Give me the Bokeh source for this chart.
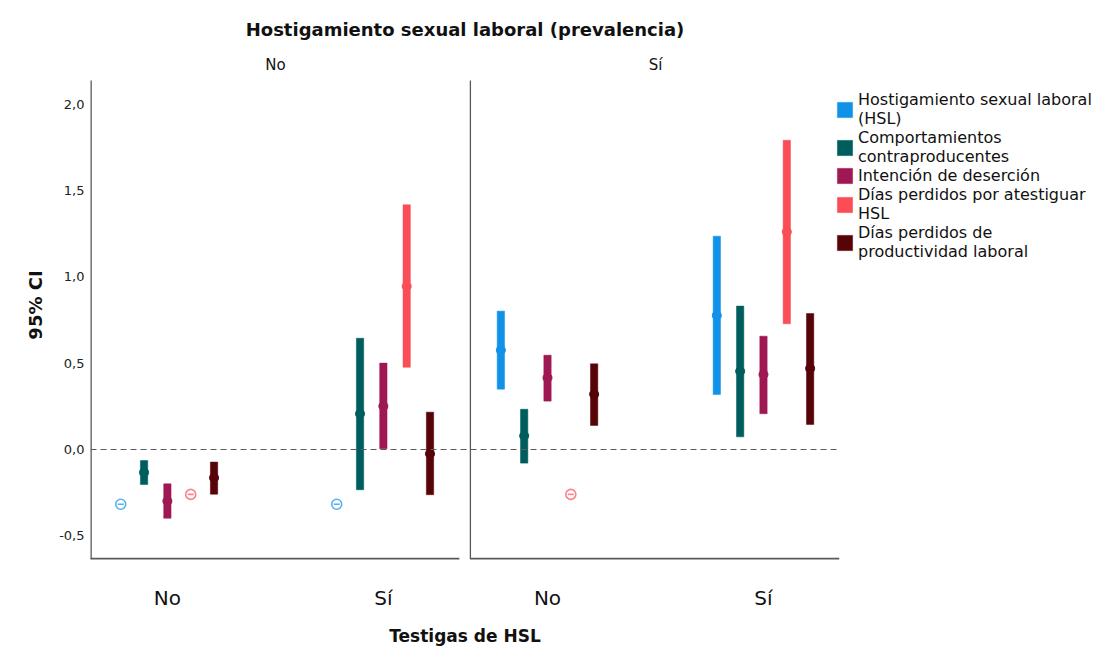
import math
from bokeh.plotting import figure
from bokeh.models import Span, Legend, LegendItem, FixedTicker, ColumnDataSource, Range1d
from bokeh.core.properties import value
from bokeh.embed import file_html
from bokeh.resources import INLINE

nan = float("nan")

# ---------------- data ----------------
panels = ["No", "Sí"]            # Hostigamiento sexual laboral (prevalencia)
testigas = ["No", "Sí"]          # Testigas de HSL
series = [
    "Hostigamiento sexual laboral\n(HSL)",
    "Comportamientos\ncontraproducentes",
    "Intención de deserción",
    "Días perdidos por atestiguar\nHSL",
    "Días perdidos de\nproductividad laboral",
]
colors = ["#1192e8", "#005d5d", "#9f1853", "#fa4d56", "#570408"]

# value order: (panel No, testigas No), (panel No, testigas Sí), (panel Sí, testigas No), (panel Sí, testigas Sí)
hsl_mean = [-0.317, -0.317, 0.575, 0.776]
hsl_lo = [nan, nan, 0.349, 0.318]
hsl_hi = [nan, nan, 0.801, 1.235]

comp_mean = [-0.133, 0.207, 0.079, 0.453]
comp_lo = [-0.203, -0.233, -0.079, 0.073]
comp_hi = [-0.064, 0.644, 0.233, 0.830]

int_mean = [-0.299, 0.251, 0.415, 0.434]
int_lo = [-0.398, 0.004, 0.280, 0.207]
int_hi = [-0.199, 0.500, 0.546, 0.656]

dias_mean = [-0.260, 0.945, -0.260, 1.260]
dias_lo = [nan, 0.476, nan, 0.728]
dias_hi = [nan, 1.417, nan, 1.790]

prod_mean = [-0.164, -0.025, 0.320, 0.469]
prod_lo = [-0.259, -0.262, 0.139, 0.145]
prod_hi = [-0.073, 0.216, 0.496, 0.787]

y_ticks = [-0.5, 0.0, 0.5, 1.0, 1.5, 2.0]
y_tick_labels = ["-0,5", "0,0", "0,5", "1,0", "1,5", "2,0"]

means = [hsl_mean, comp_mean, int_mean, dias_mean, prod_mean]
lows = [hsl_lo, comp_lo, int_lo, dias_lo, prod_lo]
highs = [hsl_hi, comp_hi, int_hi, dias_hi, prod_hi]

# ---------------- layout constants ----------------
PANEL_OFFSET = 1.76
DODGE = 0.108
BAR_W = 0.034
X_START, X_END = -0.356, 3.112
LEFT_PANEL_END, RIGHT_PANEL_START = 1.352, 1.403
Y_START, Y_AXIS_TOP, Y_FRAME_TOP = -0.637, 2.136, 2.310
PANEL_TITLE_Y = 2.225
FONT = "DejaVu Sans"
AXIS_GREY = "#5a5a5a"

p = figure(
    frame_width=749, frame_height=509,
    x_range=Range1d(X_START, X_END), y_range=Range1d(Y_START, Y_FRAME_TOP),
    output_backend="svg", toolbar_location=None,
    min_border_left=90, min_border_top=50, min_border_bottom=0, min_border_right=0,
    title="Hostigamiento sexual laboral (prevalencia)",
)
p.title.align = "center"
p.title.text_font = FONT
p.title.text_font_size = "18px"
p.title.text_font_style = "bold"
p.title.text_color = "#111111"
p.title.standoff = 22
p.outline_line_color = None
p.xgrid.grid_line_color = None
p.ygrid.grid_line_color = None

# axes
p.yaxis.ticker = FixedTicker(ticks=y_ticks)
p.yaxis.major_label_overrides = {t: l for t, l in zip(y_ticks, y_tick_labels)}
p.yaxis.major_tick_line_color = None
p.yaxis.major_tick_out = 0
p.yaxis.minor_tick_line_color = None
p.yaxis.major_label_text_font = FONT
p.yaxis.major_label_text_font_size = "13px"
p.yaxis.major_label_text_color = "#222222"
p.yaxis.major_label_standoff = 6
p.yaxis.axis_line_color = None
p.yaxis.axis_label = "95% CI"
p.yaxis.axis_label_text_font = FONT
p.yaxis.axis_label_text_font_size = "18px"
p.yaxis.axis_label_text_font_style = "bold"
p.yaxis.axis_label_text_color = "#111111"
p.yaxis.axis_label_standoff = 10

x_ticks = []
x_labels = {}
for pi in range(len(panels)):
    for ti, t in enumerate(testigas):
        xv = round(pi * PANEL_OFFSET + ti, 4)
        x_ticks.append(xv)
        x_labels[xv] = t
p.xaxis.ticker = FixedTicker(ticks=x_ticks)
p.xaxis.major_label_overrides = x_labels
p.xaxis.major_tick_line_color = None
p.xaxis.major_tick_out = 0
p.xaxis.minor_tick_line_color = None
p.xaxis.axis_line_color = None
p.xaxis.major_label_text_font = FONT
p.xaxis.major_label_text_font_size = "20px"
p.xaxis.major_label_text_color = "#111111"
p.xaxis.major_label_standoff = 26
p.xaxis.axis_label = "Testigas de HSL"
p.xaxis.axis_label_text_font = FONT
p.xaxis.axis_label_text_font_size = "17px"
p.xaxis.axis_label_text_font_style = "bold"
p.xaxis.axis_label_text_color = "#111111"
p.xaxis.axis_label_standoff = 13

# panel frames
p.segment(x0=[X_START, RIGHT_PANEL_START], x1=[LEFT_PANEL_END, X_END],
          y0=[Y_START, Y_START], y1=[Y_START, Y_START],
          line_color=AXIS_GREY, line_width=3.5)
p.segment(x0=[X_START, RIGHT_PANEL_START], x1=[X_START, RIGHT_PANEL_START],
          y0=[Y_START, Y_START], y1=[Y_AXIS_TOP, Y_AXIS_TOP],
          line_color=AXIS_GREY, line_width=[2.6, 1.3])

# zero reference line
p.add_layout(Span(location=0, dimension="width", line_color=AXIS_GREY,
                  line_dash="6 4", line_width=1.2))

# panel titles
p.text(x=[pi * PANEL_OFFSET + 0.5 for pi in range(len(panels))],
       y=[PANEL_TITLE_Y] * len(panels), text=panels,
       text_align="center", text_baseline="middle", text_font=value(FONT),
       text_font_size="15px", text_color="#111111")

items = []
for i, name in enumerate(series):
    xs_ci, lo_ci, hi_ci, m_ci = [], [], [], []
    xs_pt, m_pt = [], []
    for j in range(4):
        pi, ti = divmod(j, 2)
        xv = pi * PANEL_OFFSET + ti + (i - 2) * DODGE
        if math.isnan(lows[i][j]):
            xs_pt.append(xv); m_pt.append(means[i][j])
        else:
            xs_ci.append(xv); lo_ci.append(lows[i][j]); hi_ci.append(highs[i][j]); m_ci.append(means[i][j])
    src = ColumnDataSource(dict(x=xs_ci, lo=lo_ci, hi=hi_ci, m=m_ci))
    r = p.vbar(x="x", bottom="lo", top="hi", width=BAR_W, source=src,
               fill_color=colors[i], line_color=colors[i], line_width=0.5)
    p.scatter(x="x", y="m", source=src, size=9, marker="circle",
              fill_color=colors[i], line_color=colors[i])
    if xs_pt:
        psrc = ColumnDataSource(dict(x=xs_pt, m=m_pt))
        p.scatter(x="x", y="m", source=psrc, size=10, marker="circle",
                  fill_color=None, line_color=colors[i], line_alpha=0.7, line_width=1.6)
        p.scatter(x="x", y="m", source=psrc, size=6, marker="dash",
                  line_color=colors[i], line_alpha=0.7, line_width=1.6)
    items.append(LegendItem(label=name, renderers=[r]))

legend = Legend(items=items, location=(-4, 298))
legend.label_text_font = FONT
legend.label_text_font_size = "16px"
legend.label_text_color = "#111111"
legend.glyph_width = 19
legend.glyph_height = 19
legend.label_standoff = 4
legend.spacing = 0
legend.padding = 4
legend.margin = 0
legend.border_line_color = None
legend.background_fill_alpha = 0
legend.label_text_line_height = 1.0
p.add_layout(legend, "right")

open("out.html", "w").write(file_html(p, INLINE))
